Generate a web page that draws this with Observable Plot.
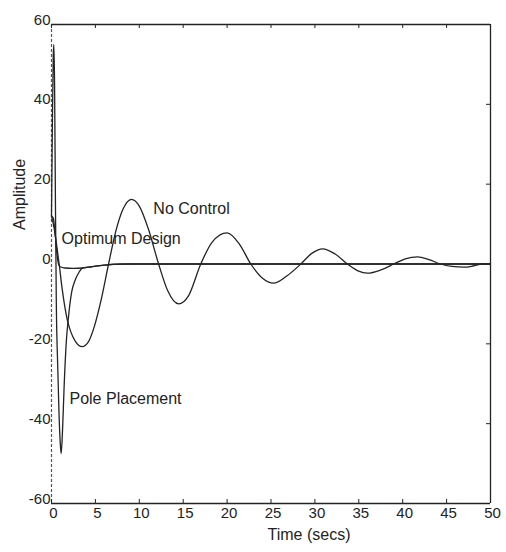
<!DOCTYPE html>
<html>
<head>
<meta charset="utf-8">
<script src="https://cdn.jsdelivr.net/npm/d3@7"></script>
<script src="https://cdn.jsdelivr.net/npm/@observablehq/plot@0.6"></script>
<style>
  html, body { margin: 0; padding: 0; background: #fff; }
  #chart { position: absolute; left: 0; top: 0; }
</style>
</head>
<body>
<div id="chart"></div>
<script>
// ---- data ----
const xDomain = [0, 50];
const yDomain = [-60, 60];
const xTicks = [0, 5, 10, 15, 20, 25, 30, 35, 40, 45, 50];
const yTicks = [-60, -40, -20, 0, 20, 40, 60];
const xLabel = "Time (secs)";
const yLabel = "Amplitude";

// [time (s), amplitude]
const noControl = [
  [0, 12], [0.3, 9], [0.6, 4.5], [0.9, -0.5], [1.2, -6], [1.5, -10.5], [1.8, -14],
  [2.2, -17], [2.7, -19.3], [3.5, -20.7], [4.2, -19.5], [4.9, -15.5], [5.6, -9.5],
  [6.5, 0], [7.3, 8], [8.1, 13.5], [9.1, 16.2], [10.0, 14.5], [11.0, 9], [12.2, 0],
  [13.2, -6.5], [14.5, -10], [15.6, -8], [17.0, 0], [18.3, 5.5], [20.0, 7.8],
  [21.4, 5], [22.7, 0], [24.0, -3.5], [25.3, -4.8], [26.8, -3], [28.4, 0],
  [29.6, 2.6], [30.9, 3.8], [32.3, 2.5], [33.7, 0], [34.9, -1.7], [36.0, -2.3],
  [37.5, -1.5], [39.0, 0], [40.3, 1.3], [41.7, 1.8], [43.0, 1.1], [44.3, 0],
  [45.6, -0.6], [47.0, -0.8], [48.0, -0.5], [49.0, 0], [50.0, 0.1]
];
const optimumDesign = [
  [0, 12], [0.2, 11.5], [0.4, 8], [0.6, 3], [0.8, 0], [1.0, -0.7], [1.5, -1],
  [2.5, -1.1], [3.5, -1], [4.5, -0.7], [5.5, -0.4], [7, -0.1], [9, 0], [50, 0]
];
const polePlacement = [
  [0, 12], [0.1, 35], [0.2, 52], [0.27, 55], [0.35, 45], [0.45, 15], [0.55, -10],
  [0.7, -25], [0.85, -37], [1.0, -45], [1.1, -47.5], [1.25, -42], [1.45, -30],
  [1.7, -19], [1.9, -14], [2.1, -10], [2.3, -7], [2.7, -4], [3.1, -2.2], [3.6, -1],
  [4.5, -0.7], [6, -0.3], [8, 0], [50, 0]
];
// curve annotations, anchored in data space (time, amplitude)
const curveLabels = [
  { text: "No Control", t: 11.6, amp: 13.9 },
  { text: "Optimum Design", t: 1.15, amp: 6.4 },
  { text: "Pole Placement", t: 2.05, amp: -33.7 }
];

// ---- chart ----
const W = 506, H = 552;
const mL = 51, mR = 16, mT = 24, mB = 49;
const frameW = W - mL - mR, frameH = H - mT - mB;
const tickLen = 4;
const ink = "#232323";
const rows = pts => pts.map(([t, amp]) => ({ t, amp }));
const lineOpts = { x: "t", y: "amp", curve: "monotone-x", stroke: ink, strokeWidth: 1.3 };

const chart = Plot.plot({
  width: W, height: H,
  marginLeft: mL, marginRight: mR, marginTop: mT, marginBottom: mB,
  style: { fontFamily: "'Liberation Sans', Arial, sans-serif", fontSize: "15px", color: ink, background: "#fff" },
  x: { domain: xDomain, axis: null },
  y: { domain: yDomain, axis: null },
  marks: [
    // box
    Plot.ruleY([yDomain[1]], { stroke: ink, strokeWidth: 1.3 }),
    Plot.ruleY([yDomain[0]], { stroke: ink, strokeWidth: 1.3 }),
    Plot.ruleX([xDomain[1]], { stroke: ink, strokeWidth: 1.3 }),
    Plot.ruleX([xDomain[0]], { stroke: "#555", strokeWidth: 1.2, strokeDasharray: "3,2" }),
    // inward ticks
    Plot.tickX(xTicks, { x: d => d, insetTop: frameH - tickLen, stroke: ink }),
    Plot.tickX(xTicks, { x: d => d, insetBottom: frameH - tickLen, stroke: ink }),
    Plot.tickY(yTicks, { y: d => d, insetLeft: frameW - tickLen, stroke: ink }),
    // tick labels
    Plot.text(xTicks, { x: d => d, text: d => String(d), frameAnchor: "bottom", lineAnchor: "top", dy: 4, dx: 2, fontSize: 15, fill: ink }),
    Plot.text(yTicks, { y: d => d, text: d => String(d), frameAnchor: "left", textAnchor: "end", lineAnchor: "bottom", dx: -1, dy: 0, fontSize: 15, fill: ink }),
    // axis titles
    Plot.text([xLabel], { frameAnchor: "bottom", dx: 38, dy: 36.5, fontSize: 16, fill: ink }),
    Plot.text([yLabel], { frameAnchor: "left", rotate: -90, dx: -32, dy: -34, fontSize: 16, fill: ink }),
    // curves
    Plot.line(rows(noControl), lineOpts),
    Plot.line(rows(optimumDesign), lineOpts),
    Plot.line(rows(polePlacement), lineOpts),
    // curve labels
    Plot.text(curveLabels, { x: "t", y: "amp", text: "text", textAnchor: "start", fontSize: 16, fill: ink })
  ]
});
document.getElementById("chart").appendChild(chart);
</script>
</body>
</html>
